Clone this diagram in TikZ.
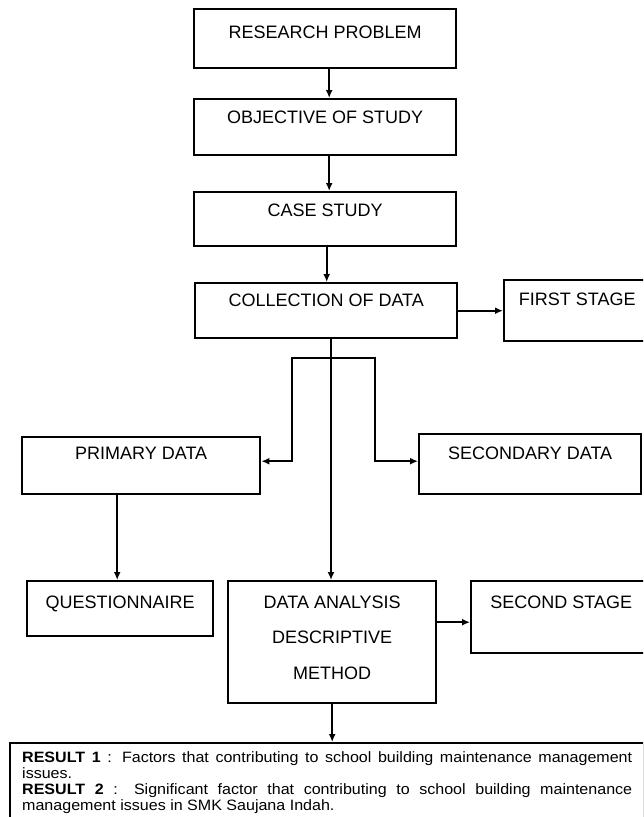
\documentclass[tikz,border=0pt]{standalone}
\usepackage{fontspec}
\setmainfont{Liberation Sans}
\newfontfamily\resultfont[FakeStretch=1.07]{Liberation Sans}
\usetikzlibrary{arrows.meta}

\tikzset{
  box/.style={draw, line width=2.4pt, anchor=north west, align=center, inner sep=0pt,
    text height=23.5pt, font=\fontsize{18}{21}\selectfont},
  arrow/.style={line width=2.2pt, -{Latex[length=8pt,width=7pt]}}
}

\begin{document}
\begin{tikzpicture}[x=1pt, y=-1pt]
\path[use as bounding box, clip] (0,0) rectangle (643,817);

\def\xa{193}
\def\xb{194}
\def\xc{503}

\def\ya{8}
\def\yb{98}
\def\yc{191}
\def\yd{282}
\def\ye{436}
\def\yf{580}
\def\yg{742}

\node[box, minimum width=262pt, text height=29.5pt, text depth=29.5pt] (problem) at (\xa, \ya) {RESEARCH PROBLEM};
\node[box, minimum width=262pt, text height=24.5pt, text depth=31.5pt] (objective) at (\xa, \yb) {OBJECTIVE OF STUDY};
\node[box, minimum width=262pt, text height=24.5pt, text depth=29.5pt] (casestudy) at (\xa, \yc) {CASE STUDY};
\node[box, minimum width=262pt, text depth=31.5pt] (collection) at (\xb, \yd) {COLLECTION OF DATA};
\node[box, minimum width=146pt, text height=25.5pt, text depth=35.5pt] (firststage) at (\xc, 279) {FIRST STAGE};

\node[box, minimum width=238pt, text height=22.5pt, text depth=34.5pt] (primary) at (21, \ye) {PRIMARY DATA};
\node[box, minimum width=222pt, text height=25.5pt, text depth=34.5pt] (secondary) at (418, 433) {SECONDARY DATA};

\node[box, minimum width=186pt, text height=27.5pt, text depth=27.5pt] (questionnaire) at (26, \yf) {QUESTIONNAIRE};
\node[box, minimum width=208pt, minimum height=122pt, text height={}, text depth=9pt,
  font=\fontsize{18}{35.5}\selectfont] (analysis) at (227, \yf) {DATA ANALYSIS\\DESCRIPTIVE\\METHOD};
\node[box, minimum width=180pt, text height=27.5pt, text depth=44.5pt] (secondstage) at (470, \yf) {SECOND STAGE};

\node[draw, line width=2.4pt, anchor=north west, text width=610pt, inner xsep=12pt, inner ysep=8pt,
  align=justify, text depth=100pt, font=\resultfont\fontsize{15}{16.1}\selectfont] (result) at (9, \yg)
  {\textbf{RESULT 1} : Factors that contributing to school building maintenance management\linebreak
   issues.\\
   \textbf{RESULT 2} : Significant factor that contributing to school building maintenance\linebreak
   management issues in SMK Saujana Indah.};

\coordinate (fork) at (331, 358);

\draw[arrow] ([xshift=4pt]problem.south) -- ([xshift=4pt]problem.south |- objective.north);
\draw[arrow] ([xshift=4pt]objective.south) -- ([xshift=4pt]objective.south |- casestudy.north);
\draw[arrow] ([xshift=1.5pt]casestudy.south) -- ([xshift=1.5pt]casestudy.south |- collection.north);
\draw[arrow] (collection.east) -- (firststage.west);
\draw[arrow] (collection.south -| fork) -- (analysis.north -| fork);
\draw[arrow] (fork) -- ++(-39, 0) |- ([yshift=4.5pt]primary.east);
\draw[arrow] (fork) -- ++(44, 0) |- ([yshift=3pt]secondary.west);
\draw[arrow] ([xshift=-24pt]primary.south) -- ([xshift=-24pt]primary.south |- questionnaire.north);
\draw[arrow] ([yshift=-5pt]analysis.east |- secondstage.west) -- ([yshift=-5pt]secondstage.west);
\draw[arrow] (analysis.south) -- (analysis.south |- result.north);
\end{tikzpicture}
\end{document}
